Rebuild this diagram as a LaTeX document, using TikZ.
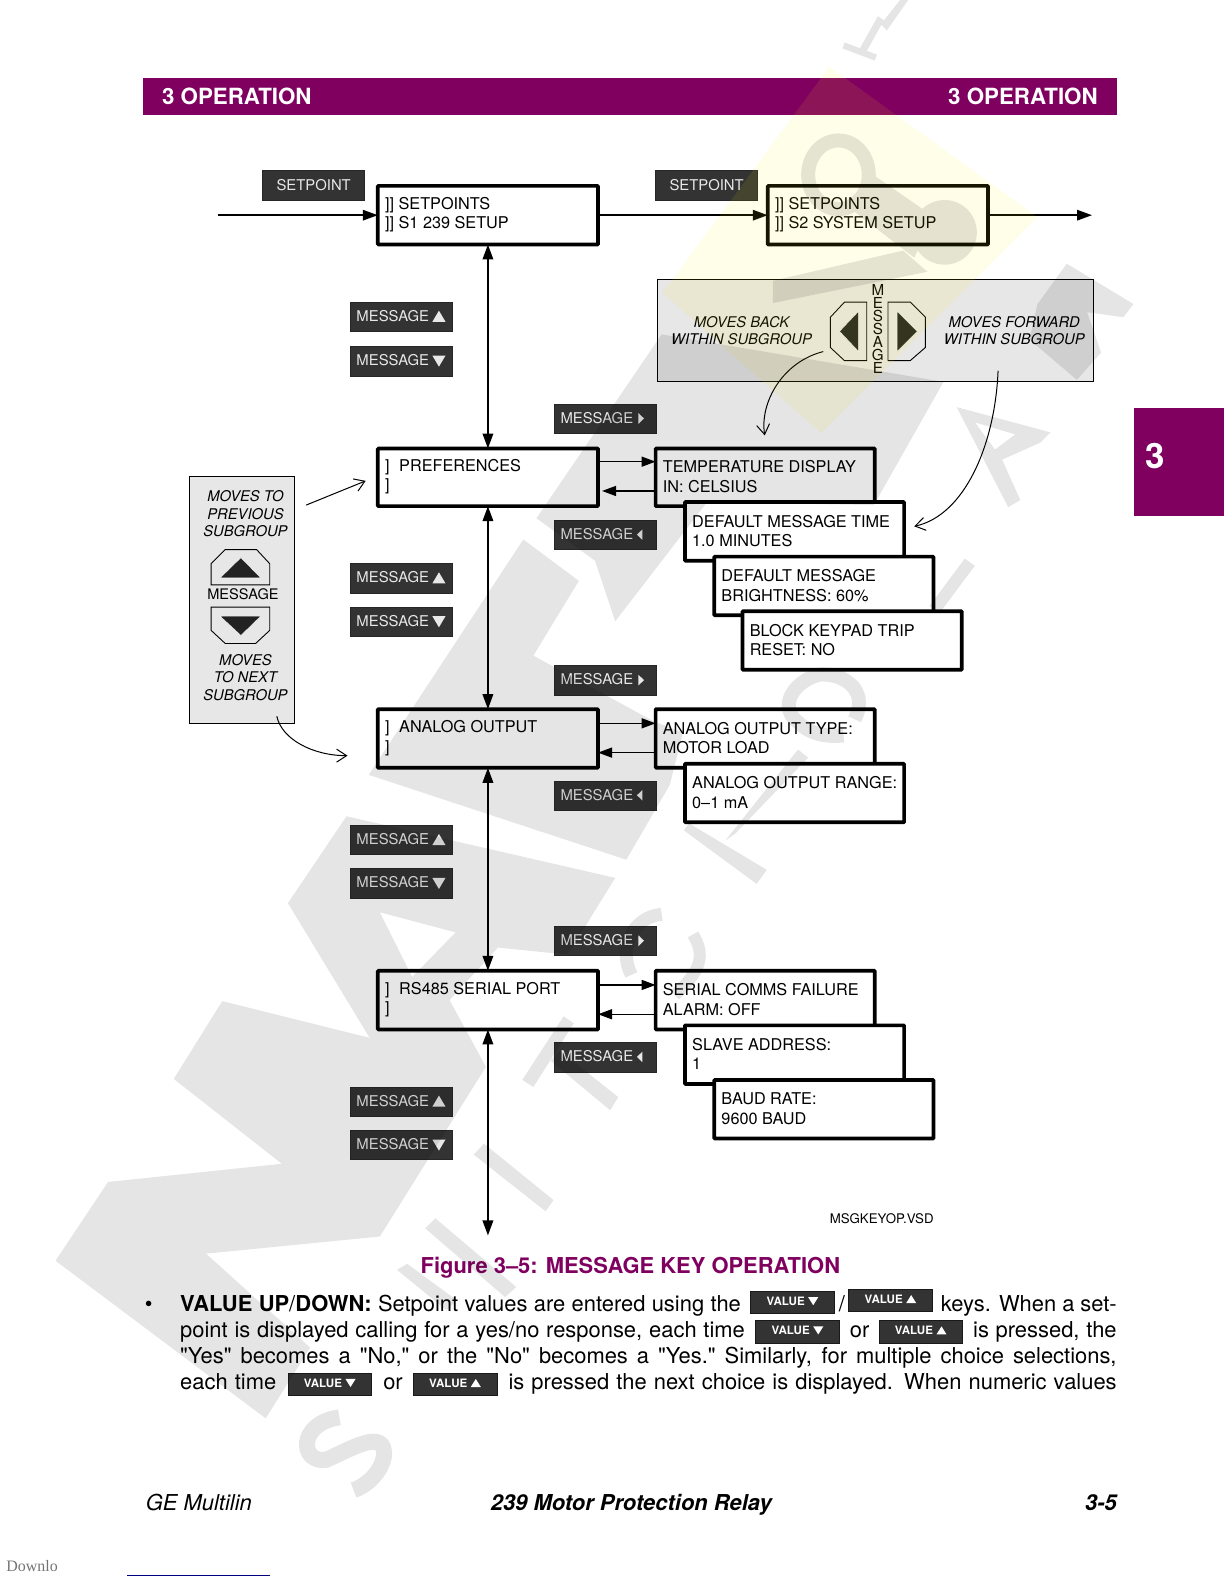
\documentclass[tikz,border=0pt]{standalone}
\usepackage{fontspec}
\setmainfont{TeX Gyre Heros}
\newfontfamily\plainheros{TeX Gyre Heros}
\newfontfamily\dlfont{Liberation Serif}
\usetikzlibrary{arrows.meta,calc}
\definecolor{geplum}{HTML}{800060}
\definecolor{keydark}{HTML}{333333}
\definecolor{keytext}{HTML}{E8E8E8}
\definecolor{panelgray}{HTML}{E7E7E7}
\definecolor{glyphdark}{HTML}{222222}
\newcommand{\Fs}[2]{\fontsize{#1}{#2}\selectfont}
\tikzset{
  x=0.505bp,y=-0.505bp,
  lcd/.style={draw=black,line width=1.85bp,fill=white,inner sep=0pt,outer sep=0pt,rounded corners=0.4bp},
  lcdtext/.style={anchor=west,inner sep=0pt,align=left,font=\Fs{8.15}{9.8}},
  keybox/.style={fill=keydark,draw=black!85,line width=0.3bp,inner sep=0pt,outer sep=0pt},
  keylabel/.style={text=keytext,font=\Fs{7.45}{8},inner sep=0pt,anchor=base west},
  valbox/.style={fill=keydark,draw=black!90,line width=0.3bp,inner sep=0pt,outer sep=0pt,text=white,font=\bfseries\Fs{5.8}{7}},
  panel/.style={fill=panelgray,draw=black,line width=0.4bp,inner sep=0pt,outer sep=0pt},
  note/.style={font=\itshape\Fs{7.4}{8.7},align=center,inner sep=0pt},
  btn/.style={draw=black,line width=0.45bp},
  glyph/.style={fill=glyphdark,draw=white,line width=0.2bp},
  flow/.style={draw=black,line width=0.95bp,-{Triangle[length=7.5bp,width=5.2bp]}},
  flowboth/.style={draw=black,line width=1.1bp,{Triangle[length=7.5bp,width=5.2bp]}-{Triangle[length=7.5bp,width=5.2bp]}},
  sideflow/.style={draw=black,line width=0.7bp,-{Triangle[length=7bp,width=5bp]}},
  hint/.style={draw=black,line width=0.5bp,-{Straight Barb[length=5bp,width=6.5bp]}},
  body/.style={anchor=base west,inner sep=0pt,font=\Fs{11}{13}},
  wmy/.style={fill=yellow,fill opacity=0.09,draw=none},
  wmstroke/.style={draw=black,line cap=butt,line width=8bp},
}
% name, x1, y1, x2, y2, line 1, line 2
\newcommand{\LCD}[7]{%
  \node[lcd,minimum width=#4*0.505bp-#2*0.505bp,minimum height=#5*0.505bp-#3*0.505bp] (#1) at ({(#2+#4)/2},{(#3+#5)/2}) {};
  \node[lcdtext] (#1t) at ({#2+6.8},{(#3+#5)/2-0.5}) {#6\\#7};}
% name, x, y (top-left), triangle: 1 up 2 down 3 right 4 left
\newcommand{\MKey}[4]{%
  \node[keybox,minimum width=100.5*0.505bp,minimum height=29*0.505bp] (#1) at ({#2+50.25},{#3+14.5}) {};
  \node[keylabel] (#1t) at ({#2+5.5},{#3+19}) {MESSAGE};
  \ifcase#4\or
    \fill[keytext] ({#2+81},{#3+19.5}) -- ({#2+94},{#3+19.5}) -- ({#2+87.5},{#3+8.5}) -- cycle;\or
    \fill[keytext] ({#2+81},{#3+9}) -- ({#2+94},{#3+9}) -- ({#2+87.5},{#3+20}) -- cycle;\or
    \fill[keytext] ({#2+83},{#3+9}) -- ({#2+83},{#3+19.5}) -- ({#2+88.5},{#3+14.2}) -- cycle;\or
    \fill[keytext] ({#2+87},{#3+9}) -- ({#2+87},{#3+19.5}) -- ({#2+81.5},{#3+14.2}) -- cycle;\fi}
\newcommand{\SKey}[3]{%
  \node[keybox,minimum width=101*0.505bp,minimum height=29*0.505bp,text=keytext,font=\Fs{7.45}{8}] (#1) at ({#2+50.5},{#3+14.5}) {SETPOINT};}
% name, x1, y1, up(1)/down(0)
\newcommand{\VKey}[4]{%
  \node[valbox,minimum width=83*0.505bp,minimum height=22.5*0.505bp,anchor=north west] (#1) at (#2,#3) {};
  \node[inner sep=0pt,anchor=base west,text=white,font=\bfseries\Fs{5.8}{7}] (#1t) at ({#2+15.5},{#3+14}) {VALUE};
  \ifnum#4=1
    \fill[white] ({#2+57},{#3+14}) -- ({#2+67},{#3+14}) -- ({#2+62},{#3+6}) -- cycle;
  \else
    \fill[white] ({#2+57},{#3+6}) -- ({#2+67},{#3+6}) -- ({#2+62},{#3+14}) -- cycle;
  \fi}
\begin{document}
\begin{tikzpicture}
\useasboundingbox (0,0) rectangle (1212,1568);
% header and tab
\node[fill=geplum,minimum width=964*0.505bp,minimum height=37*0.505bp,inner sep=0pt,outer sep=0pt] (head) at (624,95.5) {};
\node[anchor=base west,inner sep=0pt,text=white,font=\bfseries\Fs{11.2}{13}] (headl) at (160,103) {3 OPERATION};
\node[anchor=base east,inner sep=0pt,text=white,font=\bfseries\Fs{11.2}{13}] (headr) at (1087,103) {3 OPERATION};
\node[fill=geplum,minimum width=89*0.505bp,minimum height=107*0.505bp,inner sep=0pt,outer sep=0pt] (tab) at (1167.5,457.5) {};
\node[anchor=center,inner sep=0pt,text=white,font=\bfseries\Fs{17.5}{20}] (tabn) at (1144,451) {3};
% right-hand help panel
\node[panel,minimum width=431*0.505bp,minimum height=101*0.505bp] (lrpanel) at (866.5,327.5) {};
\node[note] (back) at (734,327.5) {MOVES BACK\\WITHIN SUBGROUP};
\node[note] (fwd) at (1004,327.5) {MOVES FORWARD\\WITHIN SUBGROUP};
\node[inner sep=0pt,align=center,font=\Fs{7.6}{6.55}] (vmsg) at (869,325.5) {M\\E\\S\\S\\A\\G\\E};
\draw[btn] (858,299) -- (836,299) -- (822,314) -- (822,344) -- (836,357) -- (858,357) -- cycle;
\fill[glyph] (850,308) -- (850,348) -- (831,328) -- cycle;
\draw[btn] (879,299) -- (901,299) -- (916,314) -- (916,344) -- (901,357) -- (879,357) -- cycle;
\fill[glyph] (888,308) -- (888,348) -- (908,328) -- cycle;
% left-hand help panel
\node[panel,minimum width=104*0.505bp,minimum height=244*0.505bp] (udpanel) at (239,594) {};
\node[note] (prevn) at (243,508.5) {MOVES TO\\PREVIOUS\\SUBGROUP};
\node[note] (nextn) at (243,670.5) {MOVES\\TO NEXT\\SUBGROUP};
\node[inner sep=0pt,font=\Fs{7.3}{9}] (udmsg) at (240.5,588) {MESSAGE};
\draw[btn] (209,579) -- (209,558) -- (223,544) -- (254,544) -- (267,558) -- (267,579) -- cycle;
\fill[glyph] (218,572) -- (258,572) -- (238.5,552) -- cycle;
\draw[btn] (209,601) -- (267,601) -- (267,624) -- (253,637) -- (223,637) -- (209,624) -- cycle;
\fill[glyph] (218,610) -- (258,610) -- (238.5,629) -- cycle;
% display boxes
\LCD{sone}{374}{184}{592}{242}{]] SETPOINTS}{]] S1 239 SETUP}
\LCD{stwo}{760}{184}{978}{242}{]] SETPOINTS}{]] S2 SYSTEM SETUP}
\LCD{pref}{374}{444}{592}{501}{]\hspace{4.8bp}PREFERENCES}{]}
\LCD{temp}{649}{444}{866}{501}{TEMPERATURE DISPLAY}{IN: CELSIUS}
\LCD{dmt}{678}{497}{895}{555}{DEFAULT MESSAGE TIME}{1.0 MINUTES}
\LCD{dmb}{707}{551}{924}{609}{DEFAULT MESSAGE}{BRIGHTNESS: 60\%}
\LCD{bkt}{735}{605}{952}{663}{BLOCK KEYPAD TRIP}{RESET: NO}
\LCD{ana}{374}{702}{592}{760}{]\hspace{4.8bp}ANALOG OUTPUT}{]}
\LCD{aot}{649}{702}{866}{760}{ANALOG OUTPUT TYPE:}{MOTOR LOAD}
\LCD{aor}{678}{756}{895}{814}{ANALOG OUTPUT RANGE:}{0--1 mA}
\LCD{rsp}{374}{961}{592}{1019}{]\hspace{4.8bp}RS485 SERIAL PORT}{]}
\LCD{scf}{649}{961}{866}{1019}{SERIAL COMMS FAILURE}{ALARM: OFF}
\LCD{sla}{678}{1015}{895}{1073}{SLAVE ADDRESS:}{1}
\LCD{bau}{707}{1069}{924}{1127}{BAUD RATE:}{9600 BAUD}
% keys
\SKey{ksa}{260}{169}
\SKey{ksb}{649}{169}
\MKey{kua}{347}{299}{1}\MKey{kda}{347}{343}{2}
\MKey{kub}{347}{558}{1}\MKey{kdb}{347}{601}{2}
\MKey{kuc}{347}{817}{1}\MKey{kdc}{347}{860}{2}
\MKey{kud}{347}{1076}{1}\MKey{kdd}{347}{1119}{2}
\MKey{kra}{549}{400}{3}\MKey{kla}{549}{515}{4}
\MKey{krb}{549}{659}{3}\MKey{klb}{549}{773}{4}
\MKey{krc}{549}{917}{3}\MKey{klc}{549}{1032}{4}
% connectors
\coordinate (inlet) at (216,213);
\coordinate (outlet) at (1081,213);
\coordinate (tailend) at (483,1223);
\draw[flow] (inlet) -- (sone.west);
\draw[flow] (sone.east) -- (stwo.west);
\draw[flow] (stwo.east) -- (outlet);
\draw[flowboth] (sone.south) -- (pref.north);
\draw[flowboth] (pref.south) -- (ana.north);
\draw[flowboth] (ana.south) -- (rsp.north);
\draw[flowboth] (rsp.south) -- (tailend);
\draw[sideflow] ($(pref.east)+(0,-15.5)$) -- ($(temp.west)+(0,-15.5)$);
\draw[sideflow,shorten >=2pt] ($(temp.west)+(-1,13.5)$) -- ($(pref.east)+(0,13.5)$);
\draw[sideflow] ($(ana.east)+(0,-15)$) -- ($(aot.west)+(0,-15)$);
\draw[sideflow] ($(aot.west)+(0,14)$) -- ($(ana.east)+(0,14)$);
\draw[sideflow] ($(rsp.east)+(0,-15)$) -- ($(scf.west)+(0,-15)$);
\draw[sideflow] ($(scf.west)+(0,14)$) -- ($(rsp.east)+(0,14)$);
\coordinate (hbs) at (815,348); \coordinate (hbe) at (757,431);
\coordinate (hfs) at (988,367); \coordinate (hfe) at (905,521);
\coordinate (hps) at (303,500); \coordinate (hpe) at (362,476);
\coordinate (hns) at (274,709); \coordinate (hne) at (344,748);
\draw[hint] (hbs) .. controls (775,358) and (752,398) .. (hbe);
\draw[hint] (hfs) .. controls (985,440) and (955,510) .. (hfe);
\draw[hint] (hps) -- (hpe);
\draw[hint] (hns) .. controls (279,732) and (310,748) .. (hne);
% file tag and caption
\node[anchor=base west,inner sep=0pt,font=\Fs{6.65}{8}] (vsd) at (821,1211) {MSGKEYOP.VSD};
\node[anchor=base,inner sep=0pt,text=geplum,font=\bfseries\Fs{11}{13}] (cap) at (624,1261) {Figure 3--5: MESSAGE KEY OPERATION};
% body text
\node[body] (bul) at (143,1298) {•};
\node[body] (la) at (178,1298) {\makebox[280.3bp][s]{\textbf{VALUE UP}/\textbf{DOWN:} Setpoint values are entered using the}};
\VKey{va}{743}{1278}{0}
\node[body] (sl) at (830,1298) {/};
\VKey{vb}{840}{1276}{1}
\node[body] (lb) at (931,1298) {\makebox[87.9bp][s]{keys. When a set-}};
\node[body] (lc) at (178,1324) {\makebox[282.3bp][s]{point is displayed calling for a yes/no response, each time}};
\VKey{vc}{748}{1307}{0}
\node[body] (or1) at (841,1324) {or};
\VKey{vd}{870}{1307}{1}
\node[body] (ld) at (963,1324) {\makebox[71.7bp][s]{is pressed, the}};
\node[body] (le) at (178,1350) {\makebox[468.1bp][s]{\plainheros "Yes" becomes a "No," or the "No" becomes a "Yes." Similarly, for multiple choice selections,}};
\node[body] (lf) at (178,1375) {\makebox[48bp][s]{each time}};
\VKey{ve}{285}{1359}{0}
\node[body] (or2) at (379,1375) {or};
\VKey{vf}{409}{1359}{1}
\node[body] (lg) at (503,1375) {\makebox[304bp][s]{is pressed the next choice is displayed. When numeric values}};
% footer
\node[anchor=base west,inner sep=0pt,font=\itshape\Fs{11}{13}] (fa) at (144,1495) {GE Multilin};
\node[anchor=base,inner sep=0pt,font=\bfseries\itshape\Fs{11}{13}] (fb) at (625,1495) {239 Motor Protection Relay};
\node[anchor=base east,inner sep=0pt,font=\bfseries\itshape\Fs{11}{13}] (fc) at (1106,1495) {3-5};
\node[anchor=base west,inner sep=0pt,text=black!55,font=\dlfont\Fs{8}{9}] (dl) at (6,1556) {Downlo};
\draw[color=blue!50!black,line width=0.5bp] (126,1559.5) -- (267,1559.5);
% watermark laid over the page
\fill[wmy] (821,66) -- (656,290) -- (813,429) -- (1027,215) -- cycle;
\begin{scope}[transparency group,opacity=0.1]
 % V
 \fill (220,991) -- (172,1068) -- (279,1152) -- (107,1170) -- (55,1248) -- (263,1404) -- (307,1334) -- (204,1241) -- (376,1224) -- (481,1056) -- cycle;
 % A
 \fill (343,808) -- (285,894) -- (410,1100) -- (481,1056) -- (445,990) -- (493,938) -- (562,945) -- (609,869) -- cycle
   (376,903) -- (451,923) -- (408,967) -- cycle;
 % L
 \fill (518,534) -- (365,767) -- (620,851) -- (663,777) -- (676,725) -- (647,714) -- (528,649) -- (573,575) -- cycle;
 % next letter, passing through the help panel
 \fill (655,331) -- (531,513) -- (589,555) -- (609,615) -- (700,497) -- (865,500) -- (934,378) -- cycle;
 % thin letters along the lower stream
 \fill (469,1143) -- (479,1132) -- (548,1188) -- (540,1199) -- cycle;
 \fill (517,1069) -- (528,1076) -- (568,1013) -- (558,1006) -- cycle;
 \fill (545,1050) -- (604,1099) -- (612,1086) -- (554,1040) -- cycle;
 \fill (421,1216) -- (500,1284) -- (511,1274) -- (431,1206) -- cycle;
 \fill (393,1257) -- (442,1297) -- (452,1287) -- (403,1251) -- cycle;
 \draw[wmstroke] (336,1403) .. controls (294,1409) and (297,1449) .. (323,1445) .. controls (346,1435) and (383,1412) .. (380,1442) .. controls (378,1455) and (365,1470) .. (350,1475);
 % letters in the middle stream
 \fill (677,822) -- (749,875) -- (759,861) -- (682,815) -- cycle;
 \fill (718,832) -- (728,825) -- (800,750) -- (790,742) -- cycle;
 \draw[wmstroke,line width=7bp] (846,712) .. controls (862,680) and (830,665) .. (810,668) .. controls (785,675) and (770,700) .. (790,715) .. controls (800,725) and (815,730) .. (835,728);
 \draw[wmstroke,line width=6.5bp] (655,905) .. controls (625,908) and (612,940) .. (625,965);
 \draw[wmstroke,line width=6bp] (686,925) .. controls (698,945) and (695,960) .. (668,985);
 \fill (955,553) -- (920,600) -- (930,607) -- (965,560) -- cycle;
 % upper-right letters
 \fill (836,42) -- (834,48) -- (866,60) -- (868,54) -- cycle;
 \fill (850,50) -- (856,54) -- (875,20) -- (869,16) -- cycle;
 \fill (872,24) -- (878,30) -- (899,0) -- (891,0) -- cycle;
 \fill (1056,261) -- (1027,301) -- (1019,336) -- (1066,376) -- (1090,349) -- (1076,309) -- (1112,314) -- (1122,301) -- cycle
   (1042,305) -- (1052,335) -- (1068,342) -- (1068,312) -- cycle;
 \fill (947,403) -- (998,502) -- (1010,495) -- (992,455) -- (1030,438) -- (1040,428) -- cycle
   (965,418) -- (1005,430) -- (985,445) -- cycle;
 % logo in the yellow tile
 \draw[wmstroke,line width=7bp] (830,173) ellipse [x radius=30,y radius=34];
 \fill (860,170) -- (840,205) -- (905,255) -- (925,215) -- cycle;
 \fill (935,230) circle [radius=32];
 \fill (765,278) -- (765,300) -- (918,269) -- (894,248) -- cycle;
\end{scope}
\end{tikzpicture}
\end{document}
